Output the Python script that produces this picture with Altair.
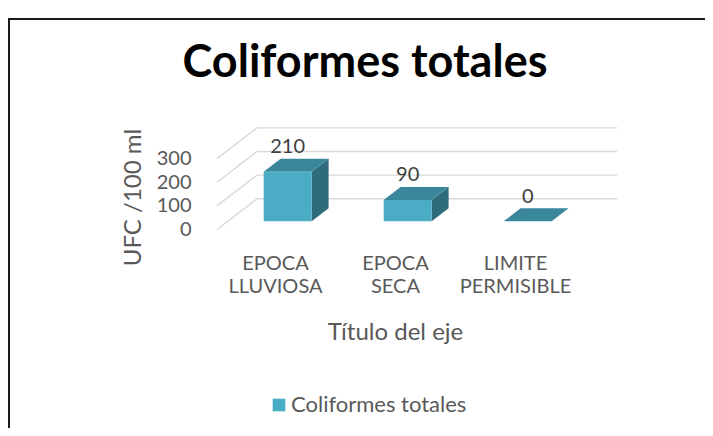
import altair as alt
import pandas as pd

# ---- data ----
categories = ["EPOCA LLUVIOSA", "EPOCA SECA", "LIMITE PERMISIBLE"]
values = [210, 90, 0]
y_ticks = [0, 100, 200, 300]
series_name = "Coliformes totales"
chart_title = "Coliformes totales"
y_title = "UFC /100 ml"
x_title = "Título del eje"

# ---- 3D projection parameters (styling) ----
DX = 1 / 3      # depth shift in category-slot units
DY = 130        # depth shift in value units
ZF, ZB = 0.267, 0.69   # bar front / back depth
HALF = 0.2      # half bar width (slots)
ZL = 0.48       # depth for data labels

FONT = "Lato"
GREY = "#595959"
C_FRONT, C_TOP, C_SIDE = "#4bacc6", "#3a879c", "#2e6c7c"

W, H = 402, 123
PAD = {"left": 209, "top": 108, "right": 697 - 209 - W, "bottom": 420 - 108 - H}

# ---- derived tables ----
front = pd.DataFrame({
    "cat": categories,
    "x": [i + ZF * DX - HALF for i in range(3)],
    "x2": [i + ZF * DX + HALF for i in range(3)],
    "y": [ZF * DY] * 3,
    "y2": [v + ZF * DY for v in values],
    "series": [series_name] * 3,
})

top_rows, side_rows, lab_rows = [], [], []
for i, v in enumerate(values):
    for z in (ZF, ZB):
        top_rows.append({"bar": i, "y": v + z * DY,
                         "x": i + z * DX - HALF, "x2": i + z * DX + HALF})
        side_rows.append({"bar": i, "x": i + z * DX + HALF,
                          "y": z * DY, "y2": v + z * DY})
    lab_rows.append({"x": i + ZF * DX, "y": v + ZL * DY, "label": str(v)})
top = pd.DataFrame(top_rows)
side = pd.DataFrame(side_rows)
labs = pd.DataFrame(lab_rows)

grid_rows = []
for t in y_ticks:
    grid_rows += [
        {"tick": t, "o": 0, "x": -0.5, "y": t},
        {"tick": t, "o": 1, "x": -0.5 + DX, "y": t + DY},
        {"tick": t, "o": 2, "x": len(categories) - 0.5 + DX, "y": t + DY},
    ]
grid = pd.DataFrame(grid_rows)

# label expression for the multi-line category labels
parts = [c.split(" ", 1) for c in categories]
expr = "['" + "','".join(parts[-1]) + "']"
for i in range(len(parts) - 2, -1, -1):
    expr = f"datum.value == {i} ? ['" + "','".join(parts[i]) + f"'] : " + expr

x_scale = alt.Scale(domain=[-0.5, 2.85], nice=False, zero=False)
y_scale = alt.Scale(domain=[-40, 480], nice=False, zero=False)

x_axis = alt.Axis(values=[0, 1, 2], labelExpr=expr, domain=False, ticks=False,
                  grid=False, labelPadding=14, labelFontSize=20, labelColor=GREY,
                  labelFont=FONT, labelOffset=-2, labelLineHeight=23,
                  title=x_title, titleFont=FONT, titleFontSize=24,
                  titleFontWeight="normal", titleColor=GREY,
                  titleX=178, titleY=93, titleBaseline="middle", titleAlign="center")
y_axis = alt.Axis(values=y_ticks, domain=False, ticks=False, grid=False, tickSize=0,
                  labelPadding=26, labelFontSize=20, labelColor=GREY, labelFont=FONT,
                  title=y_title, titleFont=FONT, titleFontSize=24,
                  titleFontWeight="normal", titleColor=GREY, titleAngle=270,
                  titleX=-84, titleY=81, titleBaseline="middle", titleAlign="center")


def X(field="x"):
    return alt.X(f"{field}:Q", scale=x_scale, axis=x_axis)


def Y(field="y"):
    return alt.Y(f"{field}:Q", scale=y_scale, axis=y_axis)


grid_layer = alt.Chart(grid).mark_line(color="#d9d9d9", strokeWidth=1.4).encode(
    x=X(), y=Y(), detail="tick:N", order="o:Q")

side_layer = alt.Chart(side).mark_area(color=C_SIDE, orient="vertical").encode(
    x=X(), y=Y(), y2="y2:Q", detail="bar:N")

top_layer = alt.Chart(top).mark_area(color=C_TOP, orient="horizontal").encode(
    y=Y(), x=X(), x2="x2:Q", detail="bar:N")

front_layer = alt.Chart(front).mark_rect().encode(
    x=X(), x2="x2:Q", y=Y(), y2="y2:Q",
    color=alt.Color("series:N",
                    scale=alt.Scale(domain=[series_name], range=[C_FRONT]),
                    legend=alt.Legend(title=None, orient="none", legendX=51, legendY=278,
                                      symbolType="square", symbolSize=160,
                                      labelFontSize=22, labelColor=GREY, labelFont=FONT,
                                      labelLimit=400, labelOffset=1, padding=0,
                                      symbolStrokeWidth=0)))

label_layer = alt.Chart(labs).mark_text(
    font=FONT, fontSize=20, color="#404040", dy=-18, baseline="middle").encode(
    x=X(), y=Y(), text="label:N")

border_df = pd.DataFrame({"k": [0]})
border_v = alt.Chart(border_df).mark_rule(color="#1a1a1a", strokeWidth=2).encode(
    x=alt.value(-208), y=alt.value(-98), y2=alt.value(H + 200))
border_h = alt.Chart(border_df).mark_rule(color="#1a1a1a", strokeWidth=2).encode(
    y=alt.value(-97), x=alt.value(-210), x2=alt.value(W + 200))

chart = alt.layer(grid_layer, side_layer, top_layer, front_layer, label_layer,
                  border_v, border_h).properties(
    width=W, height=H,
    autosize=alt.AutoSizeParams(type="none"),
    padding=PAD,
    background="white",
    title=alt.TitleParams(chart_title, font=FONT, fontSize=45, fontWeight="bold",
                          color="black", anchor="middle", frame="group", dx=-53,
                          offset=-105, baseline="alphabetic"),
).configure_view(stroke=None)

chart.save("out.html", embed_options={"renderer": "svg", "actions": False})
